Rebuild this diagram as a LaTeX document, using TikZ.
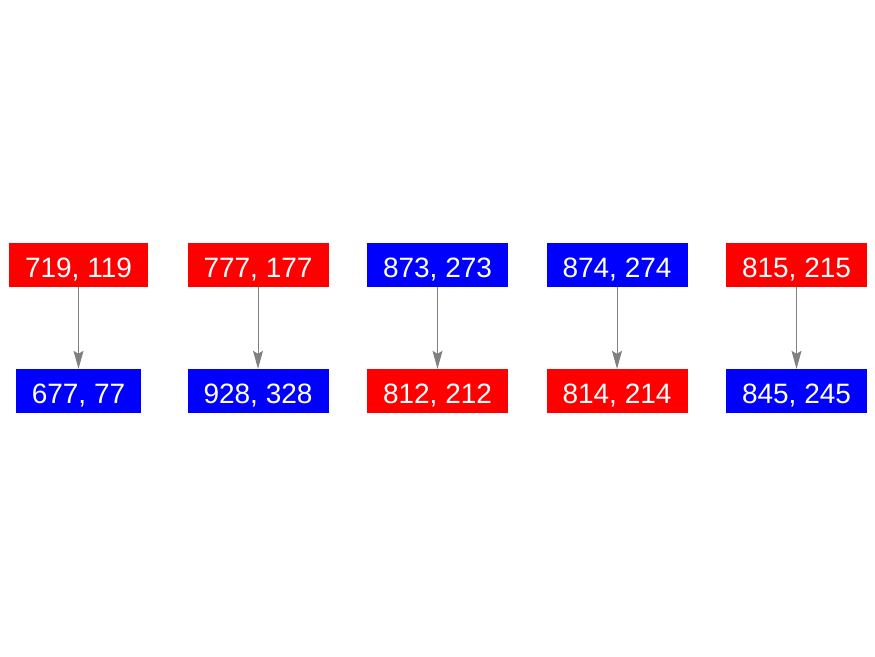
\documentclass[tikz,border=0pt]{standalone}
\usepackage{fontspec}
\setmainfont{Liberation Sans}
\usetikzlibrary{arrows.meta}

\begin{document}
\begin{tikzpicture}[
  x=1pt, y=-1pt,
  cell/.style={rectangle, text height=25pt, text depth=0pt,
               inner xsep=16pt, inner ysep=9.5pt, text=white,
               font=\fontsize{28}{30}\selectfont},
  redcell/.style={cell, fill=red},
  bluecell/.style={cell, fill=blue},
  arr/.style={-{Stealth[length=18pt, width=10pt, inset=3pt]},
              draw=gray, line width=1pt}
]
\useasboundingbox (0,0) rectangle (875,656);

\node[redcell]  (t1) at (78.5,265)  {719, 119};
\node[redcell]  (t2) at (258,265)   {777, 177};
\node[bluecell] (t3) at (437.5,265) {873, 273};
\node[bluecell] (t4) at (617,265)   {874, 274};
\node[redcell]  (t5) at (796.5,265) {815, 215};

\node[bluecell] (b1) at (78.5,391)  {677, 77};
\node[bluecell] (b2) at (258,391)   {928, 328};
\node[redcell]  (b3) at (437.5,391) {812, 212};
\node[redcell]  (b4) at (617,391)   {814, 214};
\node[bluecell] (b5) at (796.5,391) {845, 245};

\draw[arr] (t1) -- (b1);
\draw[arr] (t2) -- (b2);
\draw[arr] (t3) -- (b3);
\draw[arr] (t4) -- (b4);
\draw[arr] (t5) -- (b5);
\end{tikzpicture}
\end{document}
